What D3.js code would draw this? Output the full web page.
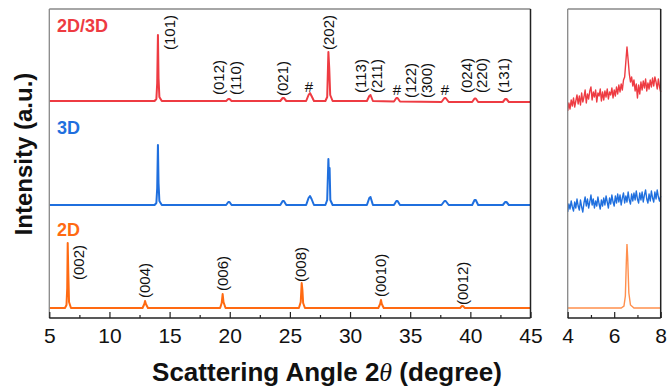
<!DOCTYPE html>
<html><head><meta charset="utf-8">
<script src="https://cdn.jsdelivr.net/npm/d3@7"></script>
<style>body{margin:0;background:#fff}svg{display:block}text{font-family:"Liberation Sans",Arial,sans-serif}</style>
</head><body><div id="chart"></div>
<script>
// ---------- DATA (2θ in degree, intensity in a.u. incl. vertical offset) ----------
const seriesNames = ["2D/3D", "3D", "2D"];
const seriesColors = ["#EE3B42", "#1F6FDE", "#FF6A12"];
const insetColors = ["#EE3B42", "#1F6FDE", "#FFA36A"];

const pattern2D3D = [[5,217],[13.75,217],[13.9,219],[13.97,235],[14.03,283],[14.08,240],[14.15,221],[14.35,217],
 [19.7,217],[19.88,219],[19.98,219],[20.15,217],[24.2,217],[24.4,220],[24.5,220],[24.7,217],
 [26.35,217],[26.55,223],[26.67,225],[26.8,222],[27.0,217],
 [27.95,217],[28.1,221],[28.2,266],[28.27,250],[28.35,223],[28.55,217],
 [31.4,217],[31.6,222],[31.7,223],[31.9,217],[33.65,216.5],[33.85,220],[33.95,220],[34.15,216.5],
 [37.6,216],[37.85,220],[37.95,220],[38.2,216],[40.15,216],[40.35,219.5],[40.45,219.5],[40.65,216],
 [42.7,216],[42.9,219],[43.0,219],[43.2,216],[45,216]];
const pattern3D = [[5,113],[13.75,113],[13.9,115],[13.97,130],[14.03,173],[14.08,135],[14.15,117],[14.35,113],
 [19.7,113],[19.88,116],[19.98,116],[20.15,113],[24.2,113],[24.4,117],[24.5,117],[24.7,113],
 [26.35,113],[26.55,120],[26.67,122],[26.8,119],[27.0,113],
 [27.95,113],[28.1,118],[28.2,159],[28.25,140],[28.3,150],[28.36,118],[28.55,113],
 [31.4,113],[31.6,120],[31.7,121],[31.9,113],[33.65,113],[33.85,117],[33.95,117],[34.15,113],
 [37.6,113],[37.85,117],[37.95,117],[38.2,113],[40.15,113],[40.35,118],[40.45,118],[40.65,113],
 [42.7,113],[42.9,116],[43.0,116],[43.2,113],[45,113]];
const pattern2D = [[5,10],[6.3,10],[6.43,13],[6.49,30],[6.53,75],[6.58,45],[6.64,16],[6.8,10],
 [12.75,10],[12.9,14],[12.96,17],[13.03,14],[13.2,10],
 [19.2,10],[19.33,15],[19.41,24],[19.48,16],[19.65,10],
 [25.75,10],[25.9,16],[25.98,35],[26.04,28],[26.1,15],[26.25,10],
 [32.35,10],[32.5,14],[32.57,18],[32.64,14],[32.8,10],
 [39.15,10],[39.3,12],[39.38,12],[39.55,10],[45,10]];

// low-angle inset (4–8°)
const insetAngles = [4.00,4.05,4.10,4.15,4.20,4.25,4.30,4.35,4.40,4.45,4.50,4.55,4.60,4.65,4.70,4.75,4.80,4.85,4.90,4.95,
 5.00,5.05,5.10,5.15,5.20,5.25,5.30,5.35,5.40,5.45,5.50,5.55,5.60,5.65,5.70,5.75,5.80,5.85,5.90,5.95,
 6.00,6.05,6.10,6.15,6.20,6.25,6.30,6.35,6.40,6.45,6.50,6.55,6.60,6.65,6.70,6.75,6.80,6.85,6.90,6.95,
 7.00,7.05,7.10,7.15,7.20,7.25,7.30,7.35,7.40,7.45,7.50,7.55,7.60,7.65,7.70,7.75,7.80,7.85,7.90,7.95,8.00];
const inset2D3D = [207,215,209,218,212,220,211,217,223,214,
 222,213,225,216,221,228,215,224,219,227,
 231,218,226,221,228,216,225,222,229,217,
 226,218,227,221,229,219,226,223,230,220,
 228,222,231,224,233,226,234,228,238,241,
 256,271,258,244,236,241,232,238,227,234,
 220,233,224,236,228,237,230,239,227,235,
 229,238,231,240,232,241,236,229,239,231,226];
const inset3D = [106,114,109,117,111,107,116,110,119,112,
 108,118,111,106,115,121,112,119,110,116,
 123,113,119,110,117,112,121,114,109,118,
 112,120,113,122,116,110,120,114,123,116,
 112,122,115,124,116,123,113,120,125,115,
 122,116,126,118,114,124,117,125,118,127,
 119,115,125,118,126,116,123,128,119,115,
 124,117,127,120,116,126,119,128,121,117,122];
const inset2D = [[4,10],[6.3,10],[6.42,12],[6.48,22],[6.52,55],[6.55,74],[6.58,60],[6.63,25],[6.7,13],[6.85,10],[8,10]];

const mainTicks = [5,10,15,20,25,30,35,40,45];
const mainMinor = [7.5,12.5,17.5,22.5,27.5,32.5,37.5,42.5];
const insetTicks = [4,6,8];
const insetMinor = [5,7];

// peak annotations: [label, 2θ of label centre, intensity at label start]
const labels2D3D = [["(101)",15.03,268],["(012)",19.11,223],["(110)",20.52,223],["(021)",24.39,222],
 ["(202)",28.25,268],["(113)",30.91,225],["(211)",32.24,225],["(122)",35.07,220],["(300)",36.40,220],
 ["(024)",39.72,225],["(220)",40.97,225],["(131)",42.80,225]];
const hashMarks = [[26.59,226],[33.90,223],[37.89,223]];
const labels2D = [["(002)",7.43,38],["(004)",12.96,20],["(006)",19.48,27],["(008)",25.96,36],["(0010)",32.57,21],["(0012)",39.35,13]];
const seriesLabelLevel = [286,184,82];

// ---------- LAYOUT ----------
const W = 668, H = 391;
const svg = d3.select("#chart").append("svg").attr("width", W).attr("height", H);
const yTop = 9, yBot = 318;
const x = d3.scaleLinear().domain([5,45]).range([49.3,530.5]);
const xi = d3.scaleLinear().domain([4,8]).range([567.7,660.7]);
const y = d3.scaleLinear().domain([0,309]).range([yBot, yTop]);

const line = (sx) => d3.line().x(d => sx(d[0])).y(d => y(d[1]));

// curves main
const patterns = [pattern2D3D, pattern3D, pattern2D];
patterns.forEach((p,i) => {
  svg.append("path").datum(p).attr("d", line(x)).attr("fill","none")
    .attr("stroke", seriesColors[i]).attr("stroke-width", 2).attr("stroke-linejoin","round");
});
// inset curves
[inset2D3D, inset3D].forEach((v,i) => {
  const pts = insetAngles.map((a,k) => [a, v[k]]);
  svg.append("path").datum(pts).attr("d", line(xi)).attr("fill","none")
    .attr("stroke", insetColors[i]).attr("stroke-width", 1.4).attr("stroke-linejoin","round");
});
svg.append("path").datum(inset2D).attr("d", line(xi)).attr("fill","none")
  .attr("stroke", seriesColors[2]).attr("stroke-width", 1.4).attr("opacity",0.75);

// frames
function frame(x0,x1){
  svg.append("line").attr("x1",x0).attr("x2",x0).attr("y1",yTop).attr("y2",yBot).attr("stroke","#888").attr("stroke-width",1.3);
  svg.append("line").attr("x1",x0).attr("x2",x1).attr("y1",yTop).attr("y2",yTop).attr("stroke","#888").attr("stroke-width",1.3);
  svg.append("line").attr("x1",x1).attr("x2",x1).attr("y1",yTop).attr("y2",yBot).attr("stroke","#222").attr("stroke-width",1.5);
  svg.append("line").attr("x1",x0).attr("x2",x1).attr("y1",yBot).attr("y2",yBot).attr("stroke","#222").attr("stroke-width",1.5);
}
frame(49.3,530.5);
frame(567.7,660.7);

// axes
function axes(sx, major, minor){
  const g = svg.append("g").attr("transform",`translate(0,${yBot})`)
    .call(d3.axisBottom(sx).tickValues(major).tickSizeInner(-6).tickSizeOuter(0).tickPadding(10).tickFormat(d3.format("d")));
  g.select(".domain").remove();
  g.selectAll("line").attr("stroke","#222").attr("stroke-width",1.2);
  g.selectAll("text").attr("font-size",21).attr("fill","#111").style("font-family","Liberation Sans, Arial, sans-serif");
  const gm = svg.append("g").attr("transform",`translate(0,${yBot})`)
    .call(d3.axisBottom(sx).tickValues(minor).tickSizeInner(-3).tickSizeOuter(0).tickFormat(""));
  gm.select(".domain").remove();
  gm.selectAll("line").attr("stroke","#222").attr("stroke-width",1.2);
}
axes(x, mainTicks, mainMinor);
axes(xi, insetTicks, insetMinor);

// series labels
seriesNames.forEach((n,i) => {
  svg.append("text").attr("x",57).attr("y",y(seriesLabelLevel[i])).text(n)
    .attr("font-size",18).attr("font-weight","bold").attr("fill",seriesColors[i]);
});

// peak labels
function peakLabel(t, a, lv){
  svg.append("text").attr("transform",`translate(${x(a)+5},${y(lv)}) rotate(-90)`)
    .attr("font-size",15).attr("fill","#111").text(t);
}
labels2D3D.forEach(d => peakLabel(...d));
labels2D.forEach(d => peakLabel(...d));
hashMarks.forEach(d => {
  svg.append("text").attr("x",x(d[0])).attr("y",y(d[1])).attr("text-anchor","middle")
    .attr("font-size",15).attr("fill","#111").text("#");
});

// axis titles
const xt = svg.append("text").attr("x",327).attr("y",381).attr("text-anchor","middle")
  .attr("font-size",26).attr("font-weight","bold").attr("fill","#111");
xt.append("tspan").text("Scattering Angle 2");
xt.append("tspan").text("θ").attr("font-style","italic").attr("font-weight","normal").style("font-family","Liberation Serif, serif");
xt.append("tspan").text(" (degree)");
svg.append("text").attr("transform","translate(32,154) rotate(-90)").attr("text-anchor","middle")
  .attr("font-size",24).attr("font-weight","bold").attr("fill","#111").text("Intensity (a.u.)");
</script></body></html>
